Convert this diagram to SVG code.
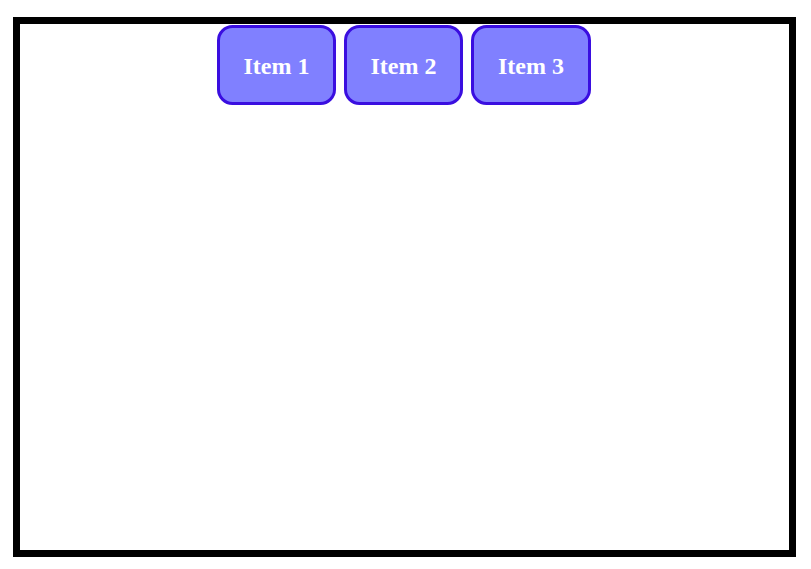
<svg xmlns="http://www.w3.org/2000/svg" width="811" height="569" viewBox="0 0 811 569">
<style>
.box{fill:#8080ff;stroke:#3a0ee0;stroke-width:3}
.lbl{font-family:"Liberation Serif",serif;font-weight:bold;font-size:24px;fill:#ffffff;text-anchor:middle}
</style>
<rect x="0" y="0" width="811" height="569" fill="#ffffff"/>
<rect x="16.5" y="20.5" width="776" height="533" fill="#ffffff" stroke="#000000" stroke-width="7"/>
<g id="item1"><rect class="box" x="218.5" y="26.5" width="116" height="77" rx="14"/><text class="lbl" x="276.5" y="73.5">Item 1</text></g>
<g id="item2"><rect class="box" x="345.5" y="26.5" width="116" height="77" rx="14"/><text class="lbl" x="403.5" y="73.5">Item 2</text></g>
<g id="item3"><rect class="box" x="472.5" y="26.5" width="117" height="77" rx="14"/><text class="lbl" x="531" y="73.5">Item 3</text></g>
<g id="connectors"></g>
</svg>
